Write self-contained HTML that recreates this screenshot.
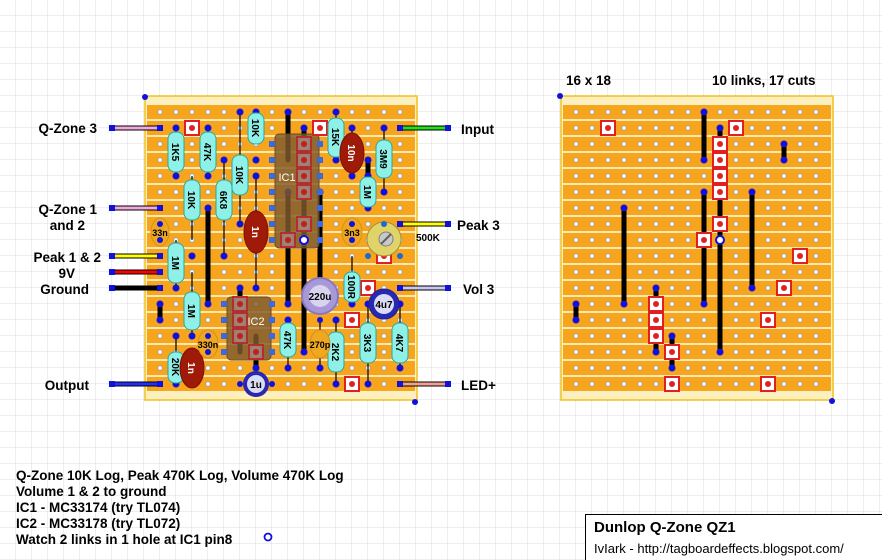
<!DOCTYPE html>
<html><head><meta charset="utf-8"><style>
html,body{margin:0;padding:0;background:#fff}
svg{display:block}
text{font-family:"Liberation Sans",sans-serif}
</style></head><body>
<svg width="882" height="560" viewBox="0 0 882 560" xmlns="http://www.w3.org/2000/svg">
<defs>
<pattern id="grid" width="16" height="16" patternUnits="userSpaceOnUse" x="0" y="0">
<path d="M16 0V16M0 16H16" stroke="#dcdcdc" stroke-width="1" fill="none"/>
</pattern>
<pattern id="strips" width="1000" height="16" patternUnits="userSpaceOnUse" x="0" y="105">
<rect x="0" y="0" width="1000" height="14" fill="#f7a51d"/>
<rect x="0" y="14" width="1000" height="2" fill="#fde9b8"/>
</pattern>
<pattern id="holesL" width="16" height="16" patternUnits="userSpaceOnUse" x="152" y="104">
<circle cx="8" cy="8" r="2.3" fill="#fff" stroke="#9a9a9a" stroke-width="0.8"/>
</pattern>
<pattern id="holesR" width="16" height="16" patternUnits="userSpaceOnUse" x="568" y="104">
<circle cx="8" cy="8" r="2.3" fill="#fff" stroke="#9a9a9a" stroke-width="0.8"/>
</pattern>
<g id="cut"><rect x="-7" y="-7" width="14" height="14" fill="#fff" stroke="#e02020" stroke-width="2"/><circle r="3" fill="#e02020"/></g>
<g id="cutb"><rect x="-7" y="-7" width="14" height="14" fill="#a08070" stroke="#b03030" stroke-width="2"/><circle r="3" fill="#c02020"/></g>
</defs>
<rect width="882" height="560" fill="url(#grid)"/>

<!-- LEFT BOARD -->
<rect x="145" y="96" width="272" height="304" fill="#fcefc0" stroke="#f0c020" stroke-width="1.5"/>
<rect x="147" y="105" width="268" height="286" fill="url(#strips)"/>
<rect x="152" y="104" width="256" height="288" fill="url(#holesL)"/>
<circle cx="145" cy="97" r="3" fill="#1010e0"/>
<circle cx="415" cy="402" r="3" fill="#1010e0"/>

<!-- RIGHT BOARD -->
<rect x="561" y="96" width="272" height="304" fill="#fcefc0" stroke="#f0c020" stroke-width="1.5"/>
<rect x="563" y="105" width="268" height="286" fill="url(#strips)"/>
<rect x="568" y="104" width="256" height="288" fill="url(#holesR)"/>
<circle cx="560" cy="96" r="3" fill="#1010e0"/>
<circle cx="832" cy="401" r="3" fill="#1010e0"/>

<!-- wires left -->
<g stroke="#000" stroke-width="1">
<rect x="112" y="126" width="48" height="4" fill="#f4a8e0"/>
<rect x="112" y="206" width="48" height="4" fill="#f4a8e0"/>
<rect x="112" y="254" width="48" height="4" fill="#ffff00"/>
<rect x="112" y="270" width="48" height="4" fill="#ff0000"/>
<rect x="112" y="286" width="48" height="4" fill="#000"/>
<rect x="112" y="382" width="48" height="4" fill="#2030ff"/>
<rect x="400" y="126" width="48" height="4" fill="#20e020"/>
<rect x="400" y="222" width="48" height="4" fill="#ffff00"/>
<rect x="400" y="286" width="48" height="4" fill="#c8c8f4"/>
<rect x="400" y="382" width="48" height="4" fill="#f4a090"/>
</g>
<g fill="#1010e0">
<rect x="109" y="125" width="6" height="6"/><rect x="157" y="125" width="6" height="6"/>
<rect x="109" y="205" width="6" height="6"/><rect x="157" y="205" width="6" height="6"/>
<rect x="109" y="253" width="6" height="6"/><rect x="157" y="253" width="6" height="6"/>
<rect x="109" y="269" width="6" height="6"/><rect x="157" y="269" width="6" height="6"/>
<rect x="109" y="285" width="6" height="6"/><rect x="157" y="285" width="6" height="6"/>
<rect x="109" y="381" width="6" height="6"/><rect x="157" y="381" width="6" height="6"/>
<rect x="397" y="125" width="6" height="6"/><rect x="445" y="125" width="6" height="6"/>
<rect x="397" y="221" width="6" height="6"/><rect x="445" y="221" width="6" height="6"/>
<rect x="397" y="285" width="6" height="6"/><rect x="445" y="285" width="6" height="6"/>
<rect x="397" y="381" width="6" height="6"/><rect x="445" y="381" width="6" height="6"/>
</g>
<g font-weight="bold" font-size="13.5" fill="#000">
<text x="97" y="133" text-anchor="end">Q-Zone 3</text>
<text x="97" y="214" text-anchor="end">Q-Zone 1</text>
<text x="85" y="230" text-anchor="end">and 2</text>
<text x="101" y="262" text-anchor="end">Peak 1 &amp; 2</text>
<text x="75" y="278" text-anchor="end">9V</text>
<text x="89" y="294" text-anchor="end">Ground</text>
<text x="89" y="390" text-anchor="end">Output</text>
<text x="461" y="134">Input</text>
<text x="457" y="230">Peak 3</text>
<text x="463" y="294">Vol 3</text>
<text x="461" y="390">LED+</text>
<text x="566" y="85">16 x 18</text>
<text x="712" y="85">10 links, 17 cuts</text>
</g>

<!-- LEFT links -->
<g stroke="#000" stroke-width="5" stroke-linecap="round">
<line x1="288" y1="112" x2="288" y2="160"/>
<line x1="304" y1="128" x2="304" y2="352"/>
<line x1="368" y1="160" x2="368" y2="176"/>
<line x1="288" y1="192" x2="288" y2="304"/>
<line x1="320" y1="192" x2="320" y2="288"/>
<line x1="208" y1="208" x2="208" y2="304"/>
<line x1="160" y1="304" x2="160" y2="320"/>
<line x1="240" y1="288" x2="240" y2="352"/>
<line x1="256" y1="336" x2="256" y2="368"/>
</g>
<g fill="#1010e0">
<circle cx="288" cy="112" r="3.5"/><circle cx="288" cy="192" r="3.5"/><circle cx="288" cy="304" r="3.5"/>
<circle cx="304" cy="128" r="3.5"/><circle cx="304" cy="352" r="3.5"/>
<circle cx="368" cy="160" r="3.5"/><circle cx="368" cy="176" r="3.5"/>
<circle cx="320" cy="192" r="3.5"/><circle cx="208" cy="208" r="3.5"/><circle cx="208" cy="304" r="3.5"/>
<circle cx="160" cy="304" r="3.5"/><circle cx="160" cy="320" r="3.5"/>
<circle cx="240" cy="288" r="3.5"/><circle cx="256" cy="368" r="3.5"/>
</g>

<!-- IC1 -->
<rect x="275" y="134" width="44" height="114" rx="4" fill="#7f5a2e" fill-opacity="0.82" stroke="#6a4a28"/>
<g fill="#3a6ae0">
<rect x="269" y="141" width="6" height="6"/><rect x="269" y="157" width="6" height="6"/><rect x="269" y="173" width="6" height="6"/><rect x="269" y="189" width="6" height="6"/><rect x="269" y="205" width="6" height="6"/><rect x="269" y="221" width="6" height="6"/><rect x="269" y="237" width="6" height="6"/>
<rect x="317" y="141" width="6" height="6"/><rect x="317" y="157" width="6" height="6"/><rect x="317" y="173" width="6" height="6"/><rect x="317" y="189" width="6" height="6"/><rect x="317" y="205" width="6" height="6"/><rect x="317" y="221" width="6" height="6"/><rect x="317" y="237" width="6" height="6"/>
</g>
<use href="#cutb" x="304" y="144"/><use href="#cutb" x="304" y="160"/><use href="#cutb" x="304" y="176"/><use href="#cutb" x="304" y="192"/><use href="#cutb" x="304" y="224"/><use href="#cutb" x="288" y="240"/>
<text x="287" y="181" font-size="11" fill="#fff" text-anchor="middle">IC1</text>
<circle cx="304" cy="240" r="4" fill="#fff" stroke="#1010e0" stroke-width="2"/>

<!-- IC2 -->
<rect x="227" y="297" width="44" height="63" rx="4" fill="#7f5a2e" fill-opacity="0.82" stroke="#6a4a28"/>
<g fill="#3a6ae0">
<rect x="221" y="301" width="6" height="6"/><rect x="221" y="317" width="6" height="6"/><rect x="221" y="333" width="6" height="6"/><rect x="221" y="349" width="6" height="6"/>
<rect x="269" y="301" width="6" height="6"/><rect x="269" y="317" width="6" height="6"/><rect x="269" y="333" width="6" height="6"/><rect x="269" y="349" width="6" height="6"/>
</g>
<use href="#cutb" x="240" y="304"/><use href="#cutb" x="240" y="320"/><use href="#cutb" x="240" y="336"/><use href="#cutb" x="256" y="352"/>
<text x="256" y="325" font-size="11" fill="#fff" text-anchor="middle">IC2</text>

<!-- left cuts -->
<use href="#cut" x="192" y="128"/><use href="#cut" x="320" y="128"/>
<use href="#cut" x="384" y="256"/><use href="#cut" x="368" y="288"/><use href="#cut" x="352" y="320"/><use href="#cut" x="352" y="384"/>

<!-- lead lines -->
<g stroke="#000" stroke-width="1.2">
<line x1="176" y1="128" x2="176" y2="176"/><line x1="208" y1="128" x2="208" y2="176"/>
<line x1="256" y1="112" x2="256" y2="144"/><line x1="192" y1="176" x2="192" y2="240"/>
<line x1="224" y1="160" x2="224" y2="256"/><line x1="240" y1="112" x2="240" y2="224"/>
<line x1="336" y1="112" x2="336" y2="160"/><line x1="384" y1="128" x2="384" y2="192"/>
<line x1="368" y1="176" x2="368" y2="208"/><line x1="176" y1="240" x2="176" y2="288"/>
<line x1="192" y1="272" x2="192" y2="336"/><line x1="352" y1="256" x2="352" y2="304"/>
<line x1="288" y1="320" x2="288" y2="368"/><line x1="336" y1="320" x2="336" y2="384"/>
<line x1="368" y1="304" x2="368" y2="384"/><line x1="400" y1="304" x2="400" y2="368"/>
<line x1="176" y1="336" x2="176" y2="384"/><line x1="352" y1="128" x2="352" y2="176"/>
<line x1="256" y1="176" x2="256" y2="288"/><line x1="192" y1="352" x2="192" y2="384"/>
<line x1="320" y1="320" x2="320" y2="368"/>
</g>
<g fill="#1010e0">
<circle cx="176" cy="128" r="3.5"/><circle cx="176" cy="176" r="3.5"/><circle cx="208" cy="128" r="3.5"/><circle cx="208" cy="176" r="3.5"/>
<circle cx="256" cy="112" r="3.5"/><circle cx="256" cy="160" r="3.5"/><circle cx="192" cy="208" r="3.5"/><circle cx="192" cy="256" r="3.5"/>
<circle cx="224" cy="160" r="3.5"/><circle cx="224" cy="256" r="3.5"/><circle cx="240" cy="112" r="3.5"/><circle cx="240" cy="224" r="3.5"/>
<circle cx="336" cy="112" r="3.5"/><circle cx="336" cy="160" r="3.5"/><circle cx="384" cy="128" r="3.5"/><circle cx="384" cy="192" r="3.5"/>
<circle cx="368" cy="176" r="3.5"/><circle cx="368" cy="208" r="3.5"/><circle cx="176" cy="288" r="3.5"/>
<circle cx="192" cy="336" r="3.5"/><circle cx="352" cy="304" r="3.5"/>
<circle cx="288" cy="320" r="3.5"/><circle cx="288" cy="368" r="3.5"/><circle cx="336" cy="320" r="3.5"/><circle cx="336" cy="384" r="3.5"/>
<circle cx="368" cy="304" r="3.5"/><circle cx="368" cy="384" r="3.5"/><circle cx="400" cy="304" r="3.5"/><circle cx="400" cy="368" r="3.5"/>
<circle cx="176" cy="336" r="3.5"/><circle cx="176" cy="384" r="3.5"/><circle cx="352" cy="128" r="3.5"/><circle cx="352" cy="176" r="3.5"/>
<circle cx="256" cy="176" r="3.5"/><circle cx="256" cy="288" r="3.5"/><circle cx="192" cy="352" r="3.5"/><circle cx="192" cy="384" r="3.5"/>
<circle cx="320" cy="368" r="3.5"/>
</g>

<!-- resistors -->
<g fill="#8ef0e6" stroke="#2aa8a0" stroke-width="1">
<rect x="168" y="132" width="16" height="40" rx="7"/>
<rect x="200" y="132" width="16" height="40" rx="7"/>
<rect x="248" y="113" width="16" height="31" rx="7"/>
<rect x="184" y="180" width="16" height="40" rx="7"/>
<rect x="216" y="180" width="16" height="40" rx="7"/>
<rect x="232" y="155" width="16" height="40" rx="7"/>
<rect x="328" y="118" width="16" height="39" rx="7"/>
<rect x="376" y="140" width="16" height="38" rx="7"/>
<rect x="360" y="177" width="16" height="30" rx="7"/>
<rect x="168" y="243" width="16" height="40" rx="7"/>
<rect x="184" y="292" width="16" height="38" rx="7"/>
<rect x="344" y="272" width="16" height="30" rx="7"/>
<rect x="280" y="323" width="16" height="34" rx="7"/>
<rect x="328" y="332" width="16" height="40" rx="7"/>
<rect x="360" y="323" width="16" height="40" rx="7"/>
<rect x="392" y="323" width="16" height="40" rx="7"/>
<rect x="168" y="352" width="16" height="31" rx="7"/>
</g>
<g font-size="10" font-weight="bold" fill="#000" text-anchor="middle">
<text transform="translate(172,152) rotate(90)">1K5</text>
<text transform="translate(204,152) rotate(90)">47K</text>
<text transform="translate(252,128) rotate(90)">10K</text>
<text transform="translate(188,200) rotate(90)">10K</text>
<text transform="translate(220,200) rotate(90)">6K8</text>
<text transform="translate(236,175) rotate(90)">10K</text>
<text transform="translate(332,137) rotate(90)">15K</text>
<text transform="translate(380,159) rotate(90)">3M9</text>
<text transform="translate(364,192) rotate(90)">1M</text>
<text transform="translate(172,263) rotate(90)">1M</text>
<text transform="translate(188,311) rotate(90)">1M</text>
<text transform="translate(348,287) rotate(90)">100R</text>
<text transform="translate(284,340) rotate(90)">47K</text>
<text transform="translate(332,352) rotate(90)">2K2</text>
<text transform="translate(364,343) rotate(90)">3K3</text>
<text transform="translate(396,343) rotate(90)">4K7</text>
<text transform="translate(172,367) rotate(90)">20K</text>
</g>

<!-- red caps -->
<g fill="#a01a08" stroke="#7a1000">
<ellipse cx="352" cy="153" rx="12" ry="20"/>
<ellipse cx="256" cy="232" rx="12" ry="21"/>
<ellipse cx="192" cy="368" rx="12" ry="20"/>
</g>
<g font-size="10" font-weight="bold" fill="#fff" text-anchor="middle">
<text transform="translate(348,153) rotate(90)">10n</text>
<text transform="translate(252,232) rotate(90)">1n</text>
<text transform="translate(188,368) rotate(90)">1n</text>
</g>
<!-- ceramic caps -->
<g fill="#f0a820" stroke="#d89018">
<ellipse cx="160" cy="232" rx="9" ry="14"/>
<ellipse cx="352" cy="232" rx="10" ry="14"/>
<ellipse cx="208" cy="344" rx="10" ry="14"/>
<ellipse cx="320" cy="344" rx="10" ry="14"/>
</g>
<g fill="#1010e0">
<circle cx="160" cy="224" r="3"/><circle cx="160" cy="240" r="3"/>
<circle cx="352" cy="224" r="3"/><circle cx="352" cy="240" r="3"/>
<circle cx="208" cy="336" r="3"/><circle cx="208" cy="352" r="3"/>
<circle cx="320" cy="320" r="3"/>
</g>
<g font-size="9" font-weight="bold" fill="#000" text-anchor="middle">
<text x="160" y="236">33n</text><text x="352" y="236">3n3</text>
<text x="208" y="348">330n</text><text x="320" y="348">270p</text>
</g>

<!-- pot -->
<circle cx="384" cy="239" r="17" fill="#e0d468" stroke="#a09040"/>
<circle cx="386" cy="239" r="7" fill="#c8c8c8" stroke="#808080"/>
<line x1="381" y1="244" x2="391" y2="234" stroke="#606060" stroke-width="2"/>
<circle cx="368" cy="256" r="3" fill="#1a6ad0"/><circle cx="400" cy="256" r="3" fill="#1a6ad0"/><circle cx="384" cy="224" r="3" fill="#1a6ad0"/>
<text x="416" y="241" font-size="10" font-weight="bold">500K</text>

<!-- electrolytics -->
<circle cx="320" cy="296" r="18" fill="#a898d8" stroke="#8878c0" stroke-width="2"/>
<circle cx="320" cy="296" r="11" fill="#d8d4f0"/>
<text x="320" y="300" font-size="10" font-weight="bold" text-anchor="middle">220u</text>
<circle cx="384" cy="304" r="15" fill="#2828b0" stroke="#2020a0"/>
<circle cx="384" cy="304" r="10" fill="#d8dcf4"/>
<text x="384" y="308" font-size="10" font-weight="bold" text-anchor="middle">4u7</text>
<circle cx="256" cy="384" r="13" fill="#2828b0"/>
<circle cx="256" cy="384" r="9" fill="#d8dcf4"/>
<text x="256" y="388" font-size="10" font-weight="bold" text-anchor="middle">1u</text>
<circle cx="240" cy="384" r="3" fill="#1010e0"/><circle cx="272" cy="384" r="3" fill="#1010e0"/>

<!-- RIGHT links -->
<g stroke="#000" stroke-width="5" stroke-linecap="round">
<line x1="704" y1="112" x2="704" y2="160"/>
<line x1="720" y1="128" x2="720" y2="352"/>
<line x1="784" y1="144" x2="784" y2="160"/>
<line x1="704" y1="192" x2="704" y2="304"/>
<line x1="752" y1="192" x2="752" y2="288"/>
<line x1="624" y1="208" x2="624" y2="304"/>
<line x1="576" y1="304" x2="576" y2="320"/>
<line x1="656" y1="288" x2="656" y2="352"/>
<line x1="672" y1="336" x2="672" y2="368"/>
</g>
<g fill="#1010e0">
<circle cx="704" cy="112" r="3.5"/><circle cx="704" cy="160" r="3.5"/><circle cx="720" cy="128" r="3.5"/><circle cx="720" cy="352" r="3.5"/>
<circle cx="784" cy="144" r="3.5"/><circle cx="784" cy="160" r="3.5"/><circle cx="704" cy="192" r="3.5"/><circle cx="704" cy="304" r="3.5"/>
<circle cx="752" cy="192" r="3.5"/><circle cx="752" cy="288" r="3.5"/><circle cx="624" cy="208" r="3.5"/><circle cx="624" cy="304" r="3.5"/>
<circle cx="576" cy="304" r="3.5"/><circle cx="576" cy="320" r="3.5"/><circle cx="656" cy="288" r="3.5"/><circle cx="656" cy="352" r="3.5"/>
<circle cx="672" cy="336" r="3.5"/><circle cx="672" cy="368" r="3.5"/>
</g>
<use href="#cut" x="608" y="128"/><use href="#cut" x="736" y="128"/>
<use href="#cut" x="720" y="144"/><use href="#cut" x="720" y="160"/><use href="#cut" x="720" y="176"/><use href="#cut" x="720" y="192"/>
<use href="#cut" x="720" y="224"/><use href="#cut" x="704" y="240"/><use href="#cut" x="800" y="256"/><use href="#cut" x="784" y="288"/>
<use href="#cut" x="656" y="304"/><use href="#cut" x="656" y="320"/><use href="#cut" x="656" y="336"/><use href="#cut" x="768" y="320"/>
<use href="#cut" x="672" y="352"/><use href="#cut" x="672" y="384"/><use href="#cut" x="768" y="384"/>
<circle cx="720" cy="240" r="4" fill="#fff" stroke="#1010e0" stroke-width="2"/>

<!-- notes -->
<g font-weight="bold" font-size="13.5" fill="#000">
<text x="16" y="480">Q-Zone 10K Log, Peak 470K Log, Volume 470K Log</text>
<text x="16" y="496">Volume 1 &amp; 2 to ground</text>
<text x="16" y="512">IC1 - MC33174 (try TL074)</text>
<text x="16" y="528">IC2 - MC33178 (try TL072)</text>
<text x="16" y="544">Watch 2 links in 1 hole at IC1 pin8</text>
</g>
<circle cx="268" cy="537" r="3.5" fill="none" stroke="#1010e0" stroke-width="1.8"/>

<!-- title -->
<rect x="585.5" y="514.5" width="300" height="50" fill="#fff" stroke="#000"/>
<text x="594" y="532" font-size="15" font-weight="bold">Dunlop Q-Zone QZ1</text>
<text x="594" y="553" font-size="13">IvIark - http://tagboardeffects.blogspot.com/</text>
</svg>
</body></html>
